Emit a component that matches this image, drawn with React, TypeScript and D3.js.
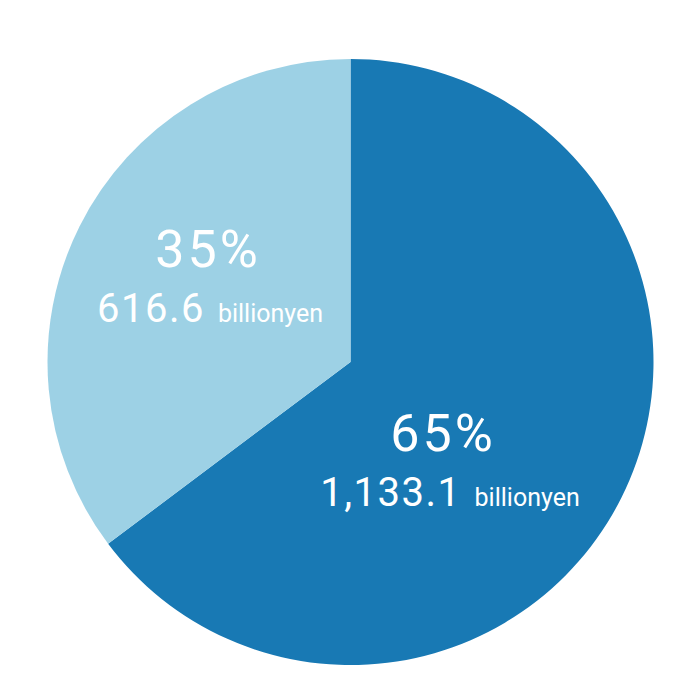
import React from "react";
import * as d3 from "d3";

const categories = ["A", "B"];
const values = [1133.1, 616.6];
const valueLabels = ["1,133.1", "616.6"];
const unitLabel = "billionyen";
const colors = ["#1879b4", "#9dd1e5"];

const W = 700;
const H = 700;
const CX = 350.5;
const CY = 362;
const R = 303;

// label anchor positions (centre x, baseline of first line)
const labelPos = [
  { x: 450, y: 451, pctX: 443 },
  { x: 210, y: 267, pctX: 208 },
];

export default function App() {
  const total = d3.sum(values);
  const pie = d3
    .pie<number>()
    .sort(null)
    .value((d) => d)
    .startAngle(0)
    .endAngle(2 * Math.PI);
  const arcs = pie(values);
  const arc = d3.arc<d3.PieArcDatum<number>>().innerRadius(0).outerRadius(R);

  return (
    <svg
      width={W}
      height={H}
      style={{ position: "absolute", left: 0, top: 0, background: "#fff" }}
      fontFamily="Roboto, sans-serif"
    >
      <g transform={`translate(${CX},${CY})`}>
        {arcs.map((a, i) => (
          <path key={categories[i]} d={arc(a) || ""} fill={colors[i]} />
        ))}
      </g>
      {arcs.map((a, i) => {
        const p = labelPos[i];
        const pct = Math.round((values[i] / total) * 100);
        return (
          <g key={"l" + i} fill="#fff">
            <text
              x={p.pctX}
              y={p.y}
              textAnchor="middle"
              fontSize={52}
              letterSpacing={3}
            >
              {pct}%
            </text>
            <text x={p.x} y={p.y + 55} textAnchor="middle">
              <tspan fontSize={40} letterSpacing={1.5}>
                {valueLabels[i]}
              </tspan>
              <tspan fontSize={25} dx={13}>
                {unitLabel}
              </tspan>
            </text>
          </g>
        );
      })}
    </svg>
  );
}
